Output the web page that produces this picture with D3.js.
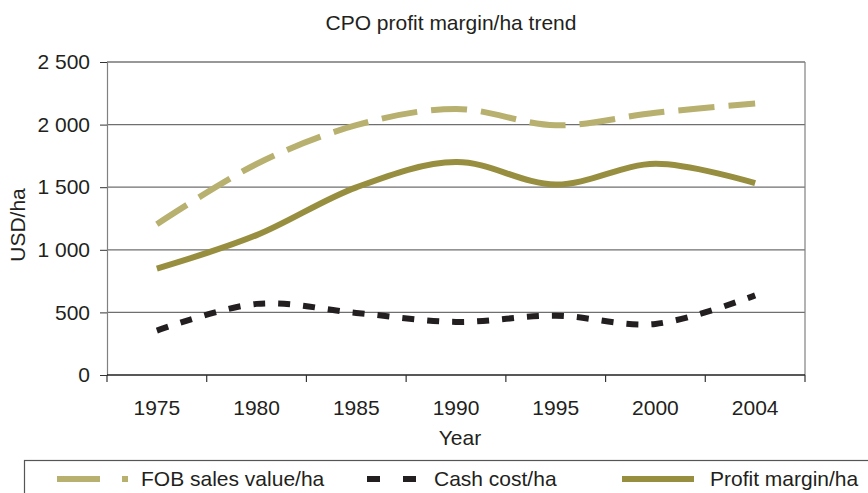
<!DOCTYPE html>
<html>
<head>
<meta charset="utf-8">
<script src="https://cdn.jsdelivr.net/npm/d3@7"></script>
<style>
  body { margin: 0; background: #fff; }
  text { font-family: "Liberation Sans", Arial, sans-serif; fill: #231f20; }
</style>
</head>
<body>
<div id="vis"></div>
<script>
// ==== DATA ====
const years = ["1975", "1980", "1985", "1990", "1995", "2000", "2004"];
const fobValues = [1205, 1685, 1995, 2125, 1995, 2095, 2168];
const cashValues = [355, 568, 496, 424, 474, 408, 636];
const profitValues = [850, 1117, 1499, 1701, 1521, 1687, 1532];
const yTicks = [0, 500, 1000, 1500, 2000, 2500];

const width = 868, height = 493;
const plot = {left: 107, right: 805, top: 62, bottom: 375};
const fontSize = "21px";

const svg = d3.select("#vis")
  .append("svg")
  .attr("width", width)
  .attr("height", height);

const x = d3.scaleBand().domain(years).range([plot.left, plot.right]);
const y = d3.scaleLinear().domain([0, 2500]).range([plot.bottom, plot.top]);

const fmt = v => d3.format(",")(v).replace(",", " ");

// title
svg.append("text")
  .attr("x", 451).attr("y", 30)
  .attr("text-anchor", "middle")
  .style("font-size", fontSize)
  .text("CPO profit margin/ha trend");

// gridlines
svg.selectAll(".grid")
  .data(yTicks.filter(d => d > 0))
  .enter().append("line")
  .attr("x1", plot.left).attr("x2", plot.right)
  .attr("y1", d => y(d)).attr("y2", d => y(d))
  .attr("stroke", d => d === 2500 ? "#333" : "#6f6f6f")
  .attr("stroke-width", 1.2);

// right border
svg.append("line")
  .attr("x1", plot.right).attr("x2", plot.right)
  .attr("y1", plot.top).attr("y2", plot.bottom)
  .attr("stroke", "#808080").attr("stroke-width", 1.2);

// y axis
const yAxis = svg.append("g")
  .attr("transform", `translate(${plot.left},0)`)
  .call(d3.axisLeft(y).tickValues(yTicks).tickFormat(fmt).tickSize(7).tickPadding(10));
yAxis.select(".domain").attr("stroke", "#808080").attr("stroke-width", 1.2);
yAxis.selectAll(".tick line").attr("stroke", "#333");
yAxis.selectAll("text")
  .style("font-size", fontSize)
  .style("font-family", "'Liberation Sans', Arial, sans-serif")
  .attr("fill", "#231f20");

// x axis (ticks at category boundaries)
const xAxis = svg.append("g")
  .attr("transform", `translate(0,${plot.bottom})`)
  .call(d3.axisBottom(x).tickSize(0).tickPadding(0));
xAxis.select(".domain").remove();
xAxis.selectAll("text")
  .attr("y", 40).attr("dy", 0)
  .style("font-size", fontSize)
  .style("font-family", "'Liberation Sans', Arial, sans-serif")
  .attr("fill", "#231f20");
svg.append("line")
  .attr("x1", plot.left).attr("x2", plot.right)
  .attr("y1", plot.bottom).attr("y2", plot.bottom)
  .attr("stroke", "#231f20").attr("stroke-width", 1.5);
const bounds = years.map(d => x(d)).concat([plot.right]);
svg.selectAll(".xtick")
  .data(bounds)
  .enter().append("line")
  .attr("x1", d => d).attr("x2", d => d)
  .attr("y1", plot.bottom).attr("y2", plot.bottom + 7)
  .attr("stroke", "#333").attr("stroke-width", 1.2);

// axis titles
svg.append("text")
  .attr("x", 460).attr("y", 445)
  .attr("text-anchor", "middle")
  .style("font-size", fontSize)
  .text("Year");
svg.append("text")
  .attr("transform", "translate(25,225) rotate(-90)")
  .attr("text-anchor", "middle")
  .style("font-size", fontSize)
  .text("USD/ha");

// lines
const line = d3.line()
  .x((d, i) => x(years[i]) + x.bandwidth() / 2)
  .y(d => y(d))
  .curve(d3.curveCardinal.tension(0));

const series = [
  {name: "FOB sales value/ha", values: fobValues, color: "#b8b06e", dash: "36 14", legendDash: "43 22"},
  {name: "Cash cost/ha", values: cashValues, color: "#231f20", dash: "12 13", legendDash: "13 23"},
  {name: "Profit margin/ha", values: profitValues, color: "#978f3f", dash: null, legendDash: null}
];

svg.selectAll(".series")
  .data(series)
  .enter().append("path")
  .attr("d", d => line(d.values))
  .attr("fill", "none")
  .attr("stroke", d => d.color)
  .attr("stroke-width", 6)
  .attr("stroke-dasharray", d => d.dash);

// legend
svg.append("rect")
  .attr("x", 24.5).attr("y", 460.5)
  .attr("width", 900).attr("height", 60)
  .attr("fill", "none")
  .attr("stroke", "#555").attr("stroke-width", 1.2);

const legendPos = [
  {x1: 57, x2: 128, tx: 141},
  {x1: 367, x2: 420, tx: 434},
  {x1: 622, x2: 694, tx: 710}
];
series.forEach((s, i) => {
  const p = legendPos[i];
  svg.append("line")
    .attr("x1", p.x1).attr("x2", p.x2)
    .attr("y1", 479).attr("y2", 479)
    .attr("stroke", s.color)
    .attr("stroke-width", 6)
    .attr("stroke-dasharray", s.legendDash);
  svg.append("text")
    .attr("x", p.tx).attr("y", 486)
    .style("font-size", fontSize)
    .text(s.name);
});
</script>
</body>
</html>
